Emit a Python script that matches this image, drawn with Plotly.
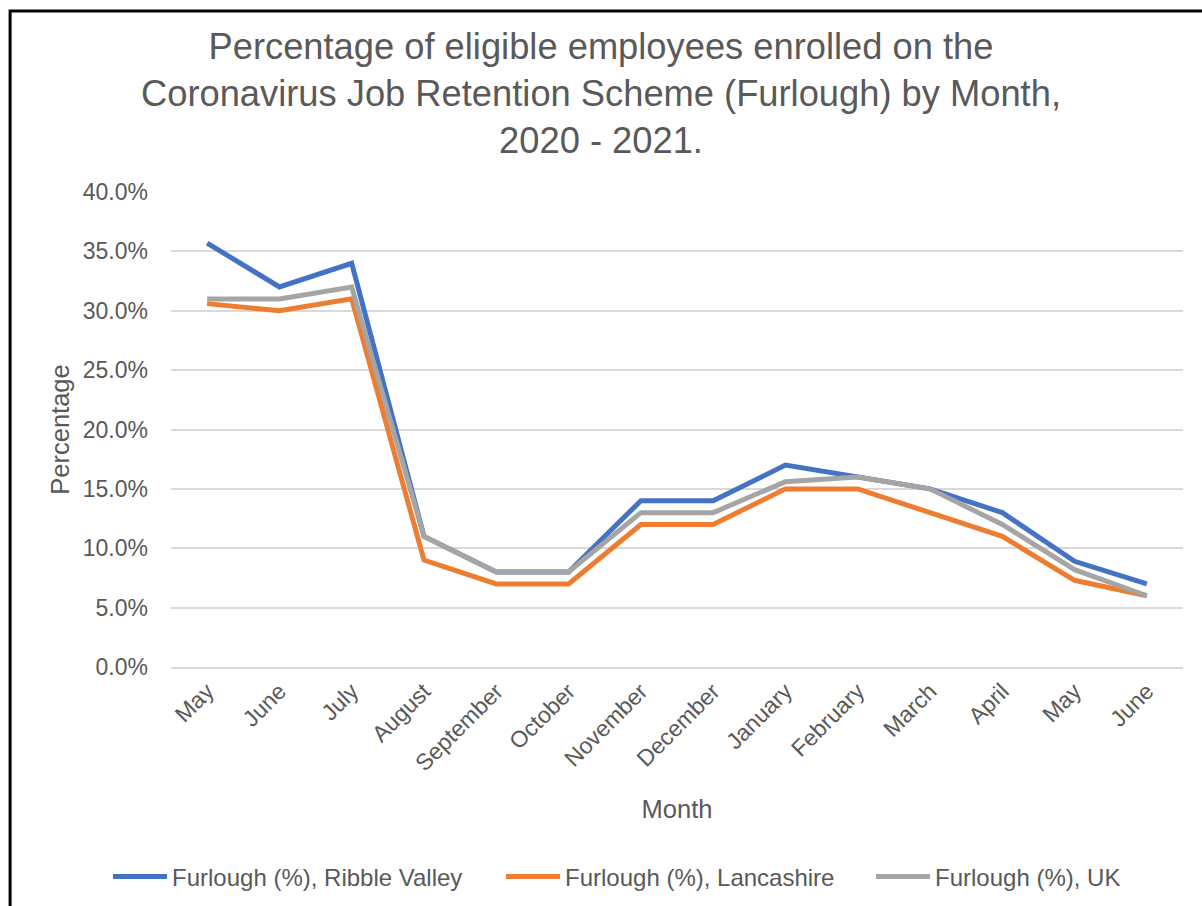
import plotly.graph_objects as go

months = ["May", "June", "July", "August", "September", "October", "November",
          "December", "January", "February", "March", "April", "May", "June"]
ribble_valley = [35.7, 32.0, 34.0, 11.0, 8.0, 8.0, 14.0, 14.0, 17.0, 16.0, 15.0, 13.0, 8.9, 7.0]
lancashire = [30.6, 30.0, 31.0, 9.0, 7.0, 7.0, 12.0, 12.0, 15.0, 15.0, 13.0, 11.0, 7.3, 6.0]
uk = [31.0, 31.0, 32.0, 11.0, 8.0, 8.0, 13.0, 13.0, 15.6, 16.0, 15.0, 12.0, 8.2, 6.0]

series = [
    ("Furlough (%), Ribble Valley", ribble_valley, "#4472C4", "legend", 108 / 1202),
    ("Furlough (%), Lancashire", lancashire, "#ED7D31", "legend2", 501 / 1202),
    ("Furlough (%), UK", uk, "#A5A5A5", "legend3", 871 / 1202),
]

txt = "#595959"
FONT = "Liberation Sans, Arial, sans-serif"

x_idx = list(range(len(months)))
fig = go.Figure()
legend_layouts = {}
for name, vals, col, leg, lx in series:
    fig.add_trace(go.Scatter(
        x=x_idx, y=[v / 100 for v in vals], name=name, mode="lines",
        line=dict(color=col, width=5), legend=leg,
    ))
    legend_layouts[leg] = dict(
        orientation="h", xref="container", x=lx, xanchor="left",
        yref="container", y=1 - 877 / 906, yanchor="middle",
        font=dict(size=24, color=txt, family=FONT), bgcolor="rgba(0,0,0,0)",
        itemwidth=54,
    )

fig.update_layout(
    width=1202, height=906,
    margin=dict(l=171, r=19, t=192, b=239),
    paper_bgcolor="white", plot_bgcolor="white",
    font=dict(family=FONT, color=txt, size=23),
    title=dict(
        text="Percentage of eligible employees enrolled on the<br>"
             "Coronavirus Job Retention Scheme (Furlough) by Month,<br>"
             "2020 - 2021.",
        x=0.5, xref="container", xanchor="center",
        y=1 - 59 / 906, yref="container", yanchor="middle",
        font=dict(size=36.3, color=txt, family=FONT),
    ),
    xaxis=dict(
        range=[-0.5, len(months) - 0.5],
        tickmode="array", tickvals=x_idx, ticktext=months,
        tickangle=-45, showgrid=False, zeroline=False,
        showline=True, linecolor="#d9d9d9", linewidth=1.5,
        tickfont=dict(size=23, color=txt),
        title=dict(text="Month", font=dict(size=25.5, color=txt), standoff=25),
    ),
    yaxis=dict(
        range=[0, 0.4], dtick=0.05, tickformat=".1%",
        showgrid=True, gridcolor="#d9d9d9", gridwidth=1.5,
        zeroline=False, showline=False,
        tickfont=dict(size=23, color=txt),
        ticklabelstandoff=22,
        title=dict(text="Percentage", font=dict(size=25.5, color=txt), standoff=5),
    ),
    showlegend=True,
    **legend_layouts,
)

# outer chart border (left and top edges visible)
fig.add_shape(type="rect", xref="paper", yref="paper",
              x0=-0.159, x1=1.2, y0=-1.0, y1=1.381,
              line=dict(color="black", width=3), fillcolor="rgba(0,0,0,0)",
              layer="above")

fig.write_html("out.html")
